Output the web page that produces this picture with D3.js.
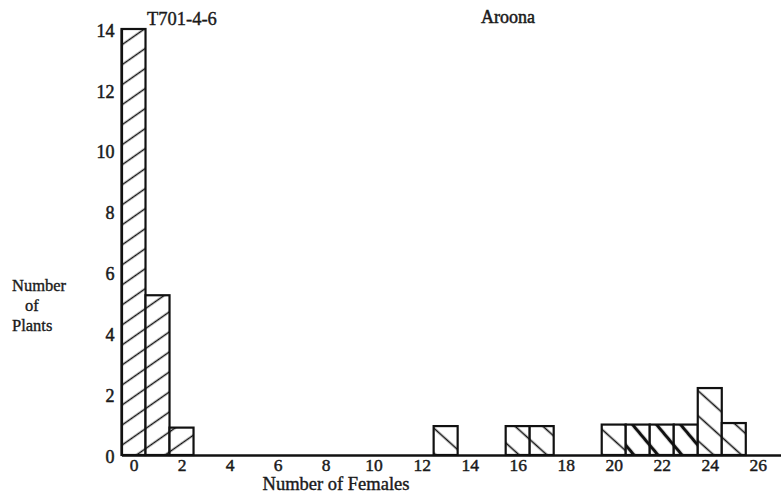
<!DOCTYPE html>
<html>
<head>
<meta charset="utf-8">
<script src="https://cdn.jsdelivr.net/npm/d3@7"></script>
<style>
  html, body { margin: 0; padding: 0; background: #fff; }
  svg { display: block; }
  text { font-family: "Liberation Serif", "Times New Roman", serif; fill: #1a1a1a; }
</style>
</head>
<body>
<script>
// Number of females per plant (x) and how many plants showed that count (y)
const females = [0, 1, 2, 13, 16, 17, 20, 21, 22, 23, 24, 25];
const plants  = [14, 5.25, 0.9, 0.95, 0.95, 0.95, 1.0, 1.0, 1.0, 1.0, 2.2, 1.05];
// hatch style of each bar: "fwd" = T701-4-6, "back" = Aroona, "bold" = heavy back-hatch
const hatch   = ["fwd", "fwd", "fwd", "back", "back", "back", "back", "bold", "bold", "bold", "back", "back"];

const xTickValues = [0, 2, 4, 6, 8, 10, 12, 14, 16, 18, 20, 22, 24, 26];
const yTickValues = [0, 2, 4, 6, 8, 10, 12, 14];

const groupLabels = ["T701-4-6", "Aroona"];
const xTitle = "Number of Females";
const yTitle = ["Number", "of", "Plants"];

const W = 781, H = 502;
const svg = d3.select("body").append("svg").attr("width", W).attr("height", H);

const x = d3.scaleLinear().domain([-0.5, 27.05]).range([121.5, 783]);
const y = d3.scaleLinear().domain([0, 14]).range([455, 29]);

// hatch fills
const defs = svg.append("defs");
const patterns = [
  { id: "fwd",  size: 16.4, angle: 55,  width: 1.5 },
  { id: "back", size: 18.6, angle: -48, width: 1.6 },
  { id: "bold", size: 18.4, angle: -40, width: 3.2 }
];
patterns.forEach(p => {
  const pat = defs.append("pattern")
    .attr("id", "hatch-" + p.id)
    .attr("patternUnits", "userSpaceOnUse")
    .attr("width", p.size).attr("height", p.size)
    .attr("patternTransform", `rotate(${p.angle})`);
  pat.append("rect").attr("width", p.size).attr("height", p.size).attr("fill", "#fff");
  pat.append("line")
    .attr("x1", p.size / 2).attr("y1", -1)
    .attr("x2", p.size / 2).attr("y2", p.size + 1)
    .attr("stroke", "#111").attr("stroke-width", p.width);
});

// bars
const bars = females.map((f, i) => ({ f, v: plants[i], h: hatch[i] }));
svg.append("g").selectAll("rect").data(bars).join("rect")
  .attr("x", d => x(d.f - 0.5))
  .attr("width", d => x(d.f + 0.5) - x(d.f - 0.5))
  .attr("y", d => y(d.v))
  .attr("height", d => y(0) - y(d.v))
  .attr("fill", d => `url(#hatch-${d.h})`)
  .attr("stroke", "#111")
  .attr("stroke-width", 2.2);

// x axis
const gx = svg.append("g").attr("transform", `translate(0,${y(0)})`)
  .call(d3.axisBottom(x).tickValues(xTickValues).tickSize(0).tickSizeOuter(0));
gx.select(".domain").attr("stroke", "#111").attr("stroke-width", 2.6);
gx.selectAll("text")
  .attr("y", 15.5).attr("dy", 0)
  .attr("font-size", 17.5)
  .attr("font-family", "Liberation Serif, serif")
  .attr("fill", "#1a1a1a")
  .attr("stroke", "#1a1a1a").attr("stroke-width", 0.45);

// y axis
const gy = svg.append("g").attr("transform", `translate(${x(-0.5)},0)`)
  .call(d3.axisLeft(y).tickValues(yTickValues).tickSize(0).tickSizeOuter(0).tickPadding(7));
gy.select(".domain").attr("stroke", "#111").attr("stroke-width", 2.2);
gy.selectAll("text")
  .attr("dy", "0.4em")
  .attr("font-size", 18)
  .attr("font-family", "Liberation Serif, serif")
  .attr("fill", "#1a1a1a")
  .attr("stroke", "#1a1a1a").attr("stroke-width", 0.5);

// group labels
svg.append("text").attr("x", 147).attr("y", 25)
  .attr("font-size", 18.5).attr("stroke", "#1a1a1a").attr("stroke-width", 0.4)
  .text(groupLabels[0]);
svg.append("text").attr("x", 508).attr("y", 23).attr("text-anchor", "middle")
  .attr("font-size", 18).attr("stroke", "#1a1a1a").attr("stroke-width", 0.5)
  .text(groupLabels[1]);

// axis titles
svg.append("text").attr("x", 336).attr("y", 490).attr("text-anchor", "middle")
  .attr("font-size", 18.5).attr("stroke", "#1a1a1a").attr("stroke-width", 0.4)
  .text(xTitle);

const yt = svg.append("g");
[[12, 291], [25, 311], [12, 331]].forEach((pos, i) => {
  yt.append("text").attr("x", pos[0]).attr("y", pos[1])
    .attr("font-size", 16.5).attr("stroke", "#1a1a1a").attr("stroke-width", 0.35)
    .text(yTitle[i]);
});
</script>
</body>
</html>
